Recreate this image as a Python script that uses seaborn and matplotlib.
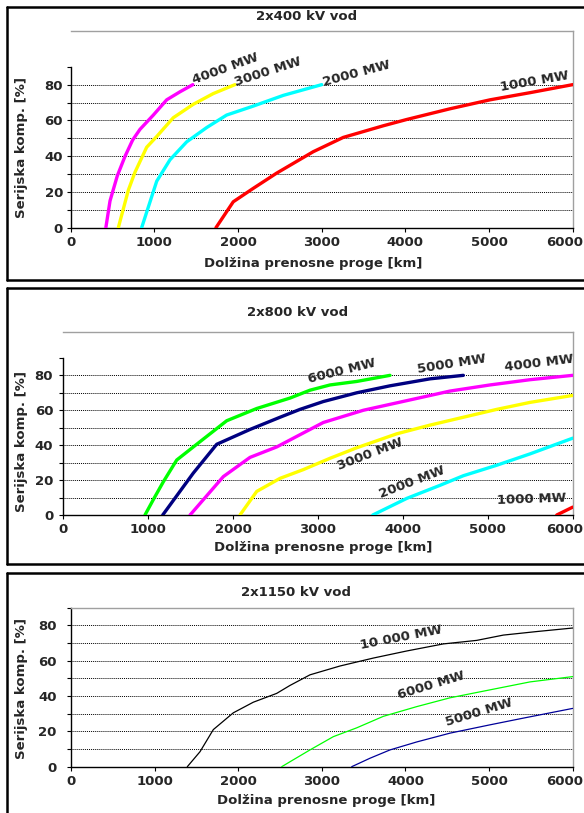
import numpy as np
import pandas as pd
import matplotlib
matplotlib.use("Agg")
import matplotlib.pyplot as plt
import matplotlib.transforms as mtransforms
from matplotlib.lines import Line2D
import seaborn as sns

# ---------------- data ----------------
# Panel 1: 2x400 kV vod
p1_4000_x = [420, 470, 557, 650, 740, 828, 988, 1147, 1306, 1460]
p1_4000_y = [0, 15, 29, 40, 49, 55, 63, 71.5, 76, 80]
p1_3000_x = [569, 689, 768, 908, 1028, 1226, 1465, 1704, 1963]
p1_3000_y = [0, 21, 31, 45, 51, 61.5, 69, 75, 80]
p1_2000_x = [848, 1028, 1187, 1386, 1625, 1864, 2182, 2541, 3000]
p1_2000_y = [0, 26, 38, 48, 56, 63, 68, 74, 80]
p1_1000_x = [1736, 1943, 2182, 2461, 2899, 3258, 3736, 4015, 4533, 5011, 5489, 6000]
p1_1000_y = [0, 14.5, 22, 30.5, 42.5, 50.5, 57, 60.5, 66.5, 71.5, 75.5, 80]

# Panel 2: 2x800 kV vod
p2_6000_x = [962, 1068, 1178, 1336, 1571, 1925, 2278, 2671, 2906, 3142, 3456, 3848]
p2_6000_y = [0, 9.5, 19, 31.5, 40.5, 54, 61, 67, 71.5, 74.5, 76.5, 80]
p2_5000_x = [1171, 1531, 1807, 2199, 2553, 2788, 3063, 3456, 3848, 4320, 4712]
p2_5000_y = [0, 24, 40.5, 49, 56, 60.5, 65, 70, 74, 78, 80]
p2_4000_x = [1493, 1885, 2199, 2514, 2788, 3063, 3534, 4045, 4555, 5026, 5497, 6000]
p2_4000_y = [0, 22, 33, 39, 46, 53, 60, 65.5, 71, 74.5, 77.5, 80]
p2_3000_x = [2081, 2278, 2553, 2827, 3142, 3456, 3927, 4320, 4712, 5105, 5497, 6000]
p2_3000_y = [0, 13.5, 21, 26, 32.5, 38.5, 46.5, 51.5, 56, 60.5, 64.5, 68.5]
p2_2000_x = [3645, 4045, 4437, 4712, 5105, 5497, 6000]
p2_2000_y = [0, 9.5, 17, 22.5, 28.5, 35, 44]
p2_1000_x = [5812, 6000]
p2_1000_y = [0, 4.5]

# Panel 3: 2x1150 kV vod
p3_10000_x = [1391, 1543, 1702, 1941, 2180, 2460, 2619, 2858, 3217, 3616, 4015, 4453, 4852, 5171, 5570, 6000]
p3_10000_y = [0, 8.5, 21, 30.5, 36.5, 41.5, 46, 52, 57, 61.5, 65.5, 69.5, 71.5, 74.5, 76.5, 78.5]
p3_6000_x = [2520, 2619, 2858, 3137, 3417, 3735, 4134, 4533, 5011, 5490, 6000]
p3_6000_y = [0, 2.8, 9.5, 17, 22, 28.5, 34, 39, 43.5, 48, 51]
p3_5000_x = [3357, 3576, 3815, 4134, 4533, 5011, 5410, 6000]
p3_5000_y = [0, 4.8, 9.5, 14, 19, 23.7, 27.5, 33]

titles = ["2x400 kV vod", "2x800 kV vod", "2x1150 kV vod"]
xlabel = "Dolžina prenosne proge [km]"
ylabel = "Serijska komp. [%]"
xticks = [0, 1000, 2000, 3000, 4000, 5000, 6000]
yticks = [0, 10, 20, 30, 40, 50, 60, 70, 80, 90]
ytick_labels = ["0", "", "20", "", "40", "", "60", "", "80", ""]

panels = [
    [("4000 MW", p1_4000_x, p1_4000_y, "#ff00ff"),
     ("3000 MW", p1_3000_x, p1_3000_y, "#ffff00"),
     ("2000 MW", p1_2000_x, p1_2000_y, "#00ffff"),
     ("1000 MW", p1_1000_x, p1_1000_y, "#ff0000")],
    [("6000 MW", p2_6000_x, p2_6000_y, "#00ff00"),
     ("5000 MW", p2_5000_x, p2_5000_y, "#000080"),
     ("4000 MW", p2_4000_x, p2_4000_y, "#ff00ff"),
     ("3000 MW", p2_3000_x, p2_3000_y, "#ffff00"),
     ("2000 MW", p2_2000_x, p2_2000_y, "#00ffff"),
     ("1000 MW", p2_1000_x, p2_1000_y, "#ff0000")],
    [("10 000 MW", p3_10000_x, p3_10000_y, "#000000"),
     ("6000 MW", p3_6000_x, p3_6000_y, "#00ff00"),
     ("5000 MW", p3_5000_x, p3_5000_y, "#000099")],
]

# label anchor positions (data coords) and rotations
label_pos = [
    {"4000 MW": (1480, 79, 20), "3000 MW": (1990, 77.5, 18),
     "2000 MW": (3040, 77.5, 15), "1000 MW": (5150, 75, 10)},
    {"6000 MW": (2906, 74, 14), "5000 MW": (4182, 79.5, 9),
     "4000 MW": (5203, 81, 7), "3000 MW": (3259, 24, 21),
     "2000 MW": (3750, 8, 21), "1000 MW": (5105, 4.5, 2)},
    {"10 000 MW": (3476, 65, 11), "6000 MW": (3935, 36.5, 17),
     "5000 MW": (4513, 21.5, 17)},
]

# ---------------- layout ----------------
W, H = 584, 813
sns.set_theme(style="white")
plt.rcParams["font.family"] = ["DejaVu Sans"]
plt.rcParams["font.weight"] = "bold"

fig = plt.figure(figsize=(W / 100, H / 100), dpi=100)
fig.patch.set_facecolor("white")

def fx(px):
    return px / W

def fy(py):
    return 1 - py / H

# axes rectangles in pixels: left, right, top, bottom(value 0)
ax_px = [(70.7, 572.7, 31, 227.7), (63.3, 572.7, 331.7, 515), (71, 572.7, 607.7, 766.7)]
ylims = [110, 105, 90]
lws = [2.4, 2.4, 0.9]
ypads = [2.5, 4.3, 7.2]
title_pos = [(307, 17), (298, 312), (296, 592)]
xlabel_pos = [(313, 263), (323, 548), (326, 800)]
ylabel_pos = [(22, 148), (22, 441), (22, 688)]
box_px = [(7, 7, 280), (7, 288, 564), (7, 573, 830)]

FS = 9.5

for i, series in enumerate(panels):
    l, r, t, b = ax_px[i]
    ax = fig.add_axes([fx(l), fy(b), fx(r) - fx(l), fy(t) - fy(b)])
    ax.set_facecolor("white")
    rows = []
    for name, xs, ys, col in series:
        for xv, yv in zip(xs, ys):
            rows.append({"km": xv, "komp": yv, "serija": name})
    df = pd.DataFrame(rows)
    pal = {name: col for name, xs, ys, col in series}
    sns.lineplot(data=df, x="km", y="komp", hue="serija", palette=pal,
                 sort=False, estimator=None, legend=False, linewidth=lws[i],
                 ax=ax, zorder=3)
    for v in yticks[1:9]:
        ax.axhline(v, color="black", lw=0.7, ls=(0, (1, 1)), zorder=1)
    ax.set_xlim(0, 6000)
    ax.set_ylim(0, ylims[i])
    ax.set_xticks(xticks)
    ax.set_xticklabels([str(v) for v in xticks], fontsize=FS, fontweight="bold")
    ax.set_yticks(yticks)
    ax.set_yticklabels(ytick_labels, fontsize=FS, fontweight="bold")
    ax.tick_params(axis="both", direction="out", length=3, width=0.8,
                   color="black", bottom=True, left=True)
    ax.tick_params(axis="y", pad=ypads[i])
    ax.tick_params(axis="x", pad=3)
    # last x tick label nudged left to stay inside the picture
    last = ax.get_xticklabels()[-1]
    last.set_transform(last.get_transform() +
                       mtransforms.ScaledTranslation(-8 / 100, 0, fig.dpi_scale_trans))
    ax.set_xlabel("")
    ax.set_ylabel("")
    for s in ["top", "right"]:
        ax.spines[s].set_color("#a0a0a0")
        ax.spines[s].set_linewidth(1.0)
    ax.spines["left"].set_color("black")
    ax.spines["left"].set_linewidth(1.0)
    ax.spines["left"].set_bounds(0, 90)
    ax.spines["bottom"].set_color("black")
    ax.spines["bottom"].set_linewidth(1.0)
    for name, (xa, ya, rot) in label_pos[i].items():
        ax.text(xa, ya, name, fontsize=FS, fontweight="bold", rotation=rot,
                rotation_mode="anchor", ha="left", va="bottom", zorder=4)

    tx, ty = title_pos[i]
    fig.text(fx(tx), fy(ty), titles[i], fontsize=FS, fontweight="bold",
             ha="center", va="center")
    lx, ly = xlabel_pos[i]
    fig.text(fx(lx), fy(ly), xlabel, fontsize=FS, fontweight="bold",
             ha="center", va="center")
    yx, yy = ylabel_pos[i]
    fig.text(fx(yx), fy(yy), ylabel, fontsize=FS, fontweight="bold",
             ha="center", va="center", rotation=90)

    bx, bt, bb = box_px[i]
    for (x0, y0, x1, y1), c, w in [((bx, bt, W + 5, bt), "black", 1.8),
                                   ((bx, bt, bx, bb), "black", 1.8),
                                   ((bx, bb, W + 5, bb), "black", 1.8)]:
        fig.add_artist(Line2D([fx(x0), fx(x1)], [fy(y0), fy(y1)],
                              color=c, lw=w, transform=fig.transFigure))

fig.savefig("out.png", dpi=100, facecolor="white")
